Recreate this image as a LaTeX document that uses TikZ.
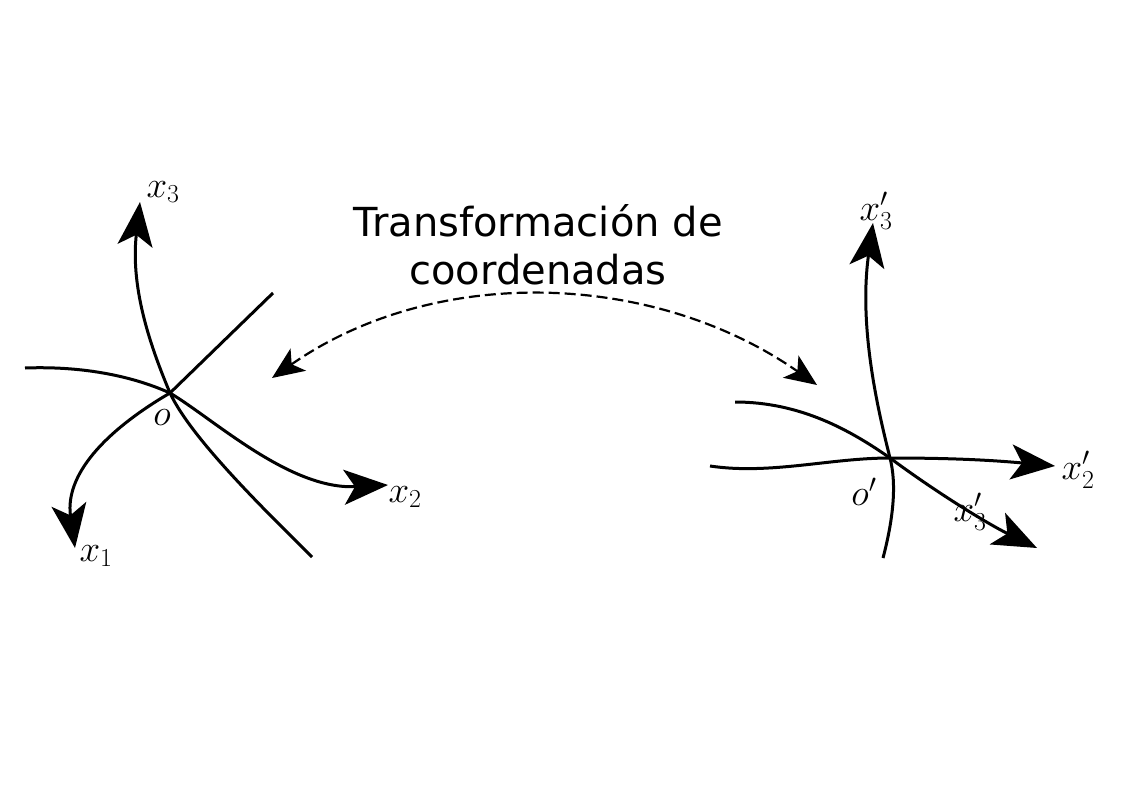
\RequirePackage{fix-cm}
\documentclass[tikz,border=0pt]{standalone}
\usepackage{fontspec}
\newfontfamily\labelfont{DejaVu Sans}
\usetikzlibrary{arrows.meta}
\begin{document}
\begin{tikzpicture}[x=1pt,y=-1pt,
  axis/.style={line width=3pt, -{Stealth[length=44pt,width=35pt,inset=11pt]}},
  transf/.style={line width=2.2pt, dash pattern=on 11pt off 5pt,
    {Stealth[length=32pt,width=27pt,inset=8pt]}-{Stealth[length=32pt,width=27pt,inset=8pt]}},
  lab/.style={font=\fontsize{37}{44}\selectfont, inner sep=0pt},
  titlestyle/.style={font=\labelfont\fontsize{40}{48}\selectfont, align=center, inner sep=0pt}
]
\useasboundingbox[fill=white] (0,0) rectangle (1123,794);

% left system
\coordinate (o) at (170,393);
\coordinate (x3b) at (312,557);
\coordinate (x3t) at (140,202);
\coordinate (x1b) at (273,293);
\coordinate (x1t) at (75,548);
\coordinate (x2b) at (25,368);
\coordinate (x2t) at (388,485);
\draw[axis] (x3b) .. controls (270,515) and (192,440) .. (o) .. controls (152,350) and (130,290) .. (x3t);
\draw[axis] (x1b) -- (o) .. controls (115,425) and (64,470) .. (x1t);
\draw[axis] (x2b) .. controls (80,366) and (130,375) .. (o) .. controls (215,420) and (290,490) .. (x2t);

% right system
\coordinate (op) at (890,458);
\coordinate (y3b) at (883,558);
\coordinate (y3t) at (873,223);
\coordinate (y2b) at (710,466);
\coordinate (y2t) at (1055,466);
\coordinate (y1b) at (735,402);
\coordinate (y1t) at (1037,548);
\draw[axis] (y3b) .. controls (893,520) and (897,485) .. (op) .. controls (880,418) and (858,330) .. (y3t);
\draw[axis] (y2b) .. controls (770,475) and (830,458) .. (op) .. controls (950,458) and (990,460) .. (y2t);
\draw[axis] (y1b) .. controls (800,402) and (850,430) .. (op) .. controls (940,495) and (990,525) .. (y1t);

% labels
\node[lab] (lx3) at (163,192) {$x_3$};
\node[lab] (lx1) at (96,556) {$x_1$};
\node[lab] (lx2) at (405,497) {$x_2$};
\node[lab] (lo) at (162,418) {$o$};
\node[lab] (lx3p) at (876,211) {$x'_3$};
\node[lab] (lx2p) at (1078,470) {$x'_2$};
\node[lab] (lop) at (864,492) {$o'$};
\node[lab] (lx1p) at (970,512) {$x'_3$};

% transformation
\node[titlestyle] (title) at (538,245) {Transformación de\\coordenadas};
\coordinate (dl) at (272,378);
\coordinate (dr) at (817,385);
\draw[transf] (dl) .. controls (435,264) and (654,271) .. (dr);
\end{tikzpicture}
\end{document}
